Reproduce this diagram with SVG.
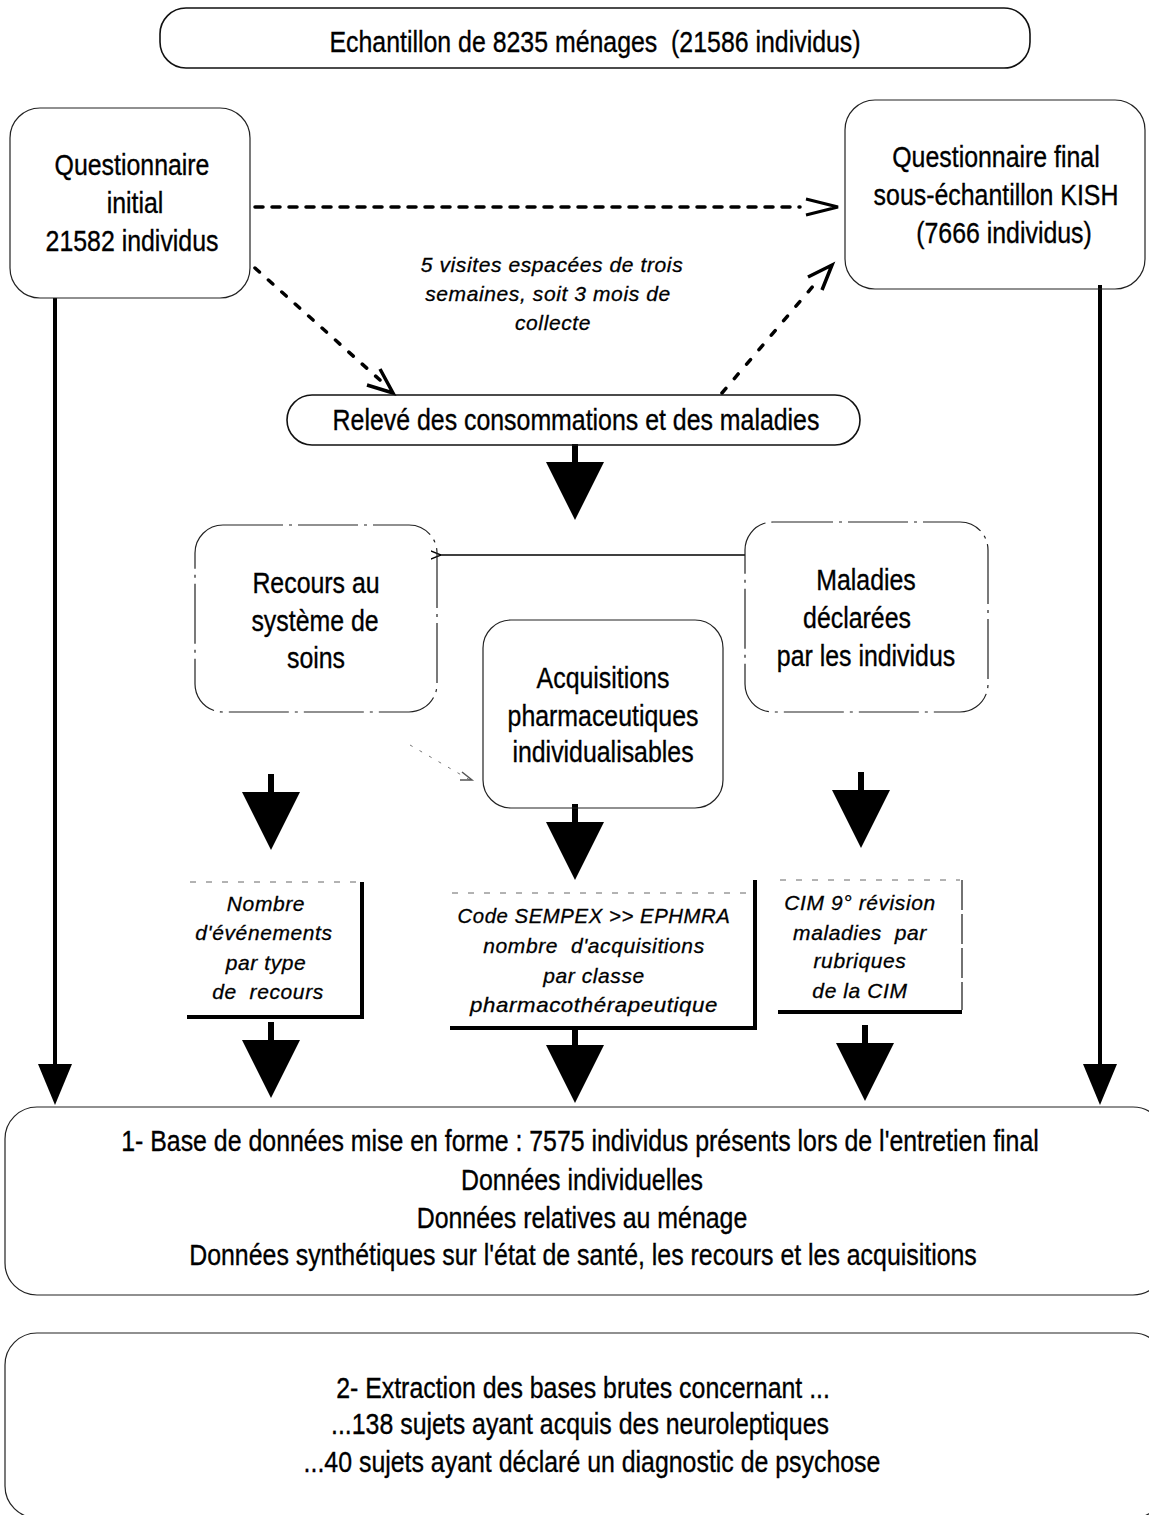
<svg xmlns="http://www.w3.org/2000/svg" width="1149" height="1515" viewBox="0 0 1149 1515">
<style>
.m{font-family:"Liberation Sans",Arial,sans-serif;font-size:30px;fill:#000;stroke:#000;stroke-width:0.35;text-anchor:middle;white-space:pre}
.i{font-family:"Liberation Sans",Arial,sans-serif;font-size:21px;font-style:italic;fill:#000;stroke:#000;stroke-width:0.3;text-anchor:middle;letter-spacing:0.6px;white-space:pre}
.box{fill:none;stroke:#111;stroke-width:1.6}
.faint{fill:none;stroke:#222;stroke-width:1.2}
.dash{fill:none;stroke:#000;stroke-width:3.5;stroke-linecap:round}
.thick{fill:none;stroke:#000;stroke-width:4}
.dots{fill:none;stroke:#666;stroke-width:1;stroke-dasharray:6 10}
</style>
<defs>
<g id="bigArrow">
<rect x="-3" y="-18" width="6" height="20" fill="#000"/>
<polygon points="-29,0 29,0 0,58" fill="#000"/>
</g>
<marker id="smallHead" viewBox="0 0 10 10" refX="1" refY="5" markerWidth="8" markerHeight="8" orient="auto">
<path d="M10,1 L0,5 L10,9" fill="none" stroke="#000" stroke-width="1.5"/>
</marker>
</defs>

<g id="connectors">
<line x1="255" y1="207" x2="800" y2="207" class="dash" stroke-width="3" stroke-dasharray="8 9"/>
<polyline points="806,199 838,207 806,215" fill="none" stroke="#000" stroke-width="3"/>
<line x1="255" y1="268" x2="380" y2="380" class="dash" stroke-dasharray="6 12"/>
<polyline points="380,369 393,393 367,385" fill="none" stroke="#000" stroke-width="3.5"/>
<line x1="722" y1="393" x2="820" y2="278" class="dash" stroke-dasharray="6 13"/>
<polyline points="808,277 832,265 822,290" fill="none" stroke="#000" stroke-width="3.5"/>
<line x1="745" y1="555" x2="440" y2="555" fill="none" stroke="#000" stroke-width="1.3" marker-end="url(#smallHead)"/>
<line x1="410" y1="745" x2="470" y2="780" stroke="#777" stroke-width="1" stroke-dasharray="3 8"/>
<path d="M462,772 L472,780 L460,780" fill="none" stroke="#555" stroke-width="1.5"/>
<use href="#bigArrow" x="575" y="462"/>
<use href="#bigArrow" x="271" y="792"/>
<use href="#bigArrow" x="575" y="822"/>
<use href="#bigArrow" x="861" y="790"/>
<use href="#bigArrow" x="271" y="1040"/>
<use href="#bigArrow" x="575" y="1045"/>
<use href="#bigArrow" x="865" y="1043"/>
<line x1="55" y1="298" x2="55" y2="1066" stroke="#000" stroke-width="4"/>
<polygon points="38,1064 72,1064 55,1105" fill="#000"/>
<line x1="1100" y1="285" x2="1100" y2="1066" stroke="#000" stroke-width="4"/>
<polygon points="1083,1064 1117,1064 1100,1105" fill="#000"/>
</g>

<g id="echantillon">
<rect x="160" y="8" width="870" height="60" rx="26" class="box" stroke-width="2.2"/>
<text class="m" transform="translate(595,52) scale(0.83,1)">Echantillon de 8235 ménages  (21586 individus)</text>
</g>

<g id="q-initial">
<rect x="10" y="108" width="240" height="190" rx="30" class="faint"/>
<text class="m" transform="translate(132,175) scale(0.83,1)">Questionnaire</text>
<text class="m" transform="translate(135,213) scale(0.83,1)">initial</text>
<text class="m" transform="translate(132,251) scale(0.83,1)">21582 individus</text>
</g>

<g id="q-final">
<rect x="845" y="100" width="300" height="189" rx="30" class="faint"/>
<text class="m" transform="translate(996,167) scale(0.83,1)">Questionnaire final</text>
<text class="m" transform="translate(996,205) scale(0.83,1)">sous-échantillon KISH</text>
<text class="m" transform="translate(1004,243) scale(0.83,1)">(7666 individus)</text>
</g>

<g id="visites">
<text class="i" x="552" y="272">5 visites espacées de trois</text>
<text class="i" x="548" y="301">semaines, soit 3 mois de</text>
<text class="i" x="553" y="330">collecte</text>
</g>

<g id="releve">
<rect x="287" y="395" width="573" height="50" rx="25" class="box" stroke-width="2.2"/>
<text class="m" transform="translate(576,430) scale(0.83,1)">Relevé des consommations et des maladies</text>
</g>

<g id="recours">
<rect x="195" y="525" width="242" height="187" rx="28" class="faint" stroke-dasharray="60 6 3 6"/>
<text class="m" transform="translate(316,593) scale(0.83,1)">Recours au</text>
<text class="m" transform="translate(315,631) scale(0.83,1)">système de</text>
<text class="m" transform="translate(316,668) scale(0.83,1)">soins</text>
</g>

<g id="maladies">
<rect x="745" y="522" width="243" height="190" rx="28" class="faint" stroke-dasharray="60 6 3 6"/>
<text class="m" transform="translate(866,590) scale(0.83,1)">Maladies</text>
<text class="m" transform="translate(857,628) scale(0.83,1)">déclarées</text>
<text class="m" transform="translate(866,666) scale(0.83,1)">par les individus</text>
</g>

<g id="acquisitions">
<rect x="483" y="620" width="240" height="188" rx="28" class="faint"/>
<text class="m" transform="translate(603,688) scale(0.83,1)">Acquisitions</text>
<text class="m" transform="translate(603,726) scale(0.83,1)">pharmaceutiques</text>
<text class="m" transform="translate(603,762) scale(0.83,1)">individualisables</text>
</g>

<g id="nombre">
<line x1="190" y1="882" x2="360" y2="882" class="dots"/>
<polyline points="187,1017 362,1017 362,882" class="thick"/>
<text class="i" x="266" y="911">Nombre</text>
<text class="i" x="264" y="940">d'événements</text>
<text class="i" x="266" y="970">par type</text>
<text class="i" x="268" y="999">de  recours</text>
</g>

<g id="code">
<line x1="452" y1="893" x2="752" y2="893" class="dots"/>
<polyline points="450,1028 755,1028 755,880" class="thick"/>
<text class="i" x="594" y="923" textLength="273" lengthAdjust="spacingAndGlyphs">Code SEMPEX &gt;&gt; EPHMRA</text>
<text class="i" x="594" y="953">nombre  d'acquisitions</text>
<text class="i" x="594" y="983">par classe</text>
<text class="i" x="594" y="1012" textLength="248" lengthAdjust="spacingAndGlyphs">pharmacothérapeutique</text>
</g>

<g id="cim">
<line x1="780" y1="880" x2="960" y2="880" class="dots"/>
<line x1="962" y1="880" x2="962" y2="1010" stroke="#444" stroke-width="1.5" stroke-dasharray="30 4"/>
<line x1="778" y1="1012" x2="962" y2="1012" class="thick"/>
<text class="i" x="860" y="910">CIM 9° révision</text>
<text class="i" x="860" y="940">maladies  par</text>
<text class="i" x="860" y="968">rubriques</text>
<text class="i" x="860" y="998">de la CIM</text>
</g>

<g id="base">
<rect x="5" y="1107" width="1160" height="188" rx="32" class="faint"/>
<text class="m" transform="translate(580,1151) scale(0.83,1)">1- Base de données mise en forme : 7575 individus présents lors de l'entretien final</text>
<text class="m" transform="translate(582,1190) scale(0.83,1)">Données individuelles</text>
<text class="m" transform="translate(582,1228) scale(0.83,1)">Données relatives au ménage</text>
<text class="m" transform="translate(583,1265) scale(0.83,1)">Données synthétiques sur l'état de santé, les recours et les acquisitions</text>
</g>

<g id="extraction">
<rect x="5" y="1333" width="1160" height="185" rx="32" class="faint"/>
<text class="m" transform="translate(583,1398) scale(0.83,1)">2- Extraction des bases brutes concernant ...</text>
<text class="m" transform="translate(580,1434) scale(0.83,1)">...138 sujets ayant acquis des neuroleptiques</text>
<text class="m" transform="translate(592,1472) scale(0.83,1)">...40 sujets ayant déclaré un diagnostic de psychose</text>
</g>
</svg>
